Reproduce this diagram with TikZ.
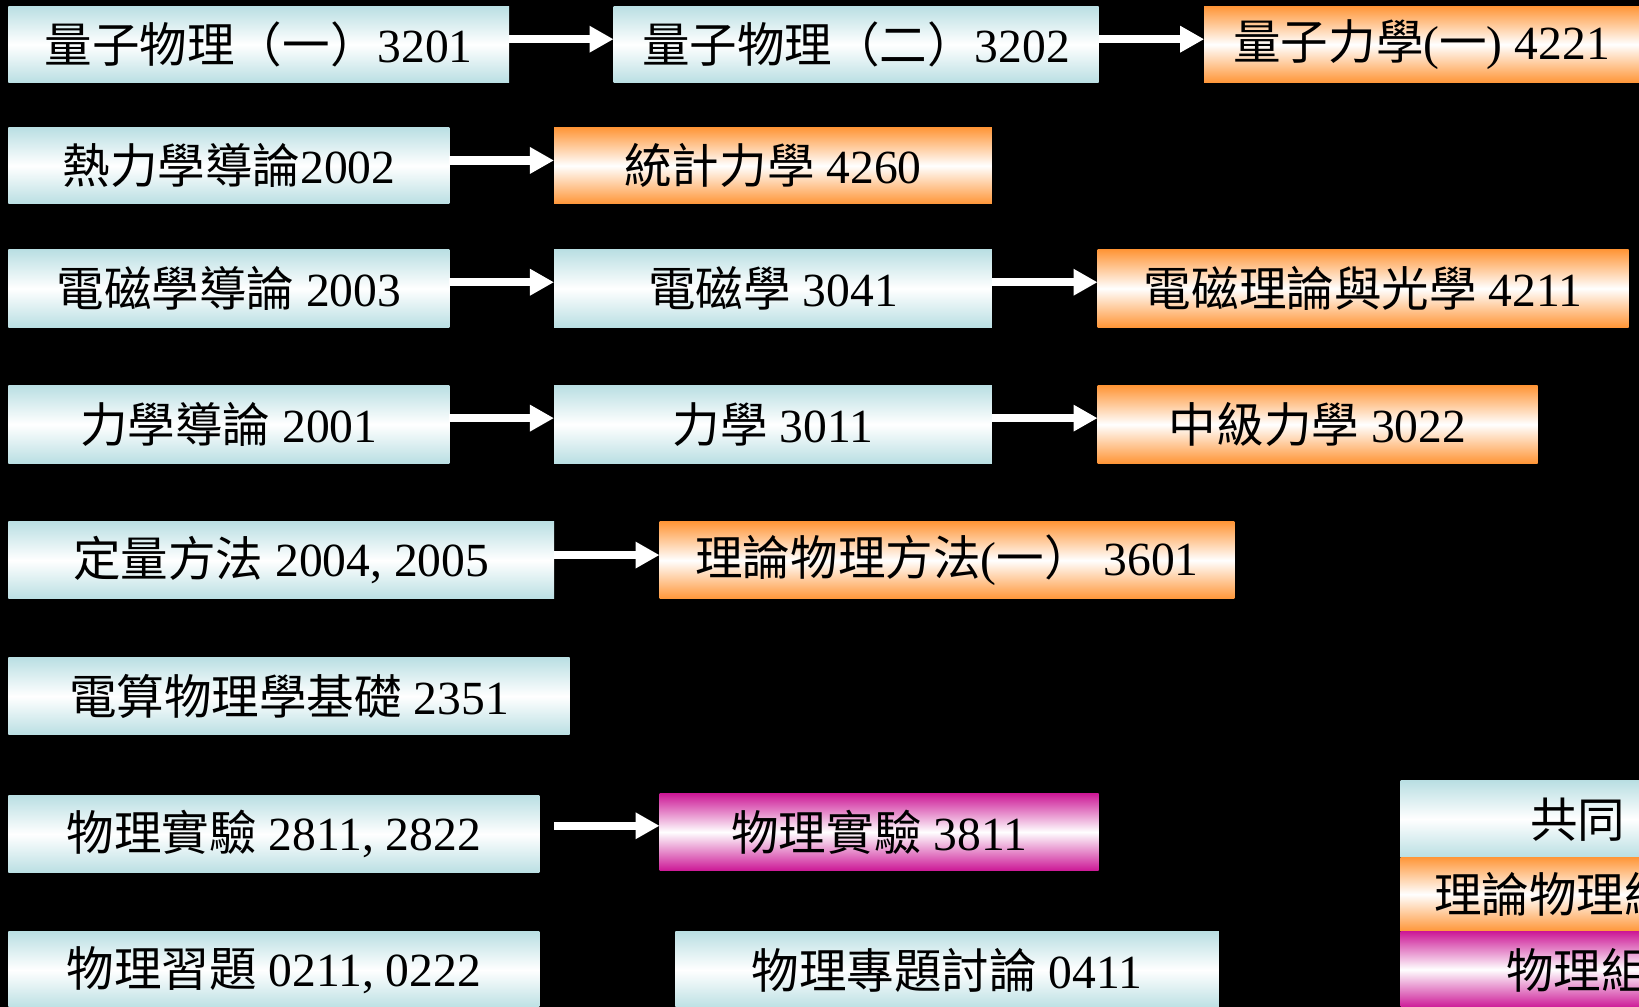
\documentclass[tikz,border=0pt]{standalone}
\usepackage{fontspec}
\setmainfont{Liberation Serif}
\newfontfamily\zh{Noto Sans CJK TC}
\usetikzlibrary{arrows.meta}
\definecolor{tealc}{RGB}{186,223,227}
\definecolor{orangec}{RGB}{255,150,56}
\definecolor{magc}{RGB}{204,24,150}
\tikzset{
  box/.style={inner sep=0pt, outer sep=0pt, text=black,
    font=\fontsize{45.5}{50}\selectfont},
  cbox/.style={box, top color=tealc, bottom color=tealc, middle color=white},
  obox/.style={box, top color=orangec, bottom color=orangec, middle color=white},
  mbox/.style={box, top color=magc, bottom color=magc, middle color=white},
  arr/.style={draw=white, line width=8pt, -{Triangle[length=23pt,width=24pt,fill=white]}},
  sz/.style n args={2}{minimum width=#1pt, minimum height=#2pt}
}
\begin{document}
\begin{tikzpicture}[x=1pt,y=-1pt]
\useasboundingbox (0,0) rectangle (1568,963);
\fill[black] (0,0) rectangle (1568,963);
\clip (0,0) rectangle (1568,963);
% row 1
\node[cbox, sz={479}{73}] (a1) at (247.5,42.5) {{\zh 量子物理（一）}3201};
\node[cbox, sz={464}{73}] (a2) at (819,42.5) {{\zh 量子物理（二）}3202};
\node[obox, sz={416}{73}] (a3) at (1360,42.5) {{\zh 量子力學}({\zh 一}) 4221};
% row 2
\node[cbox, sz={422}{73}] (b1) at (219,158.5) {{\zh 熱力學導論}2002};
\node[obox, sz={419}{73}] (b2) at (739.5,158.5) {{\zh 統計力學} 4260};
% row 3
\node[cbox, sz={422}{74}] (c1) at (219,276) {{\zh 電磁學導論} 2003};
\node[cbox, sz={419}{74}] (c2) at (739.5,276) {{\zh 電磁學} 3041};
\node[obox, sz={508}{74}] (c3) at (1304,276) {{\zh 電磁理論與光學} 4211};
% row 4
\node[cbox, sz={422}{74}] (d1) at (219,406) {{\zh 力學導論} 2001};
\node[cbox, sz={419}{74}] (d2) at (739.5,406) {{\zh 力學} 3011};
\node[obox, sz={421}{74}] (d3) at (1260.5,406) {{\zh 中級力學} 3022};
% row 5
\node[cbox, sz={522}{74}] (e1) at (269,536) {{\zh 定量方法} 2004, 2005};
\node[obox, sz={550}{74}] (e2) at (906,536) {{\zh 理論物理方法}({\zh 一）} 3601};
% row 6
\node[cbox, sz={537}{74}] (f1) at (276.5,666) {{\zh 電算物理學基礎} 2351};
% row 7
\node[cbox, sz={508}{74}] (g1) at (262,798) {{\zh 物理實驗} 2811, 2822};
\node[mbox, sz={420}{74}] (g2) at (841,796) {{\zh 物理實驗} 3811};
% row 8
\node[cbox, sz={508}{74}] (h1) at (262,928) {{\zh 物理習題} 0211, 0222};
\node[cbox, sz={520}{74}] (h2) at (906,928) {{\zh 物理專題討論} 0411};
% legend
\node[cbox, sz={400}{73}, anchor=north west] (l1) at (1340,747) {};
\node[obox, sz={400}{71}, anchor=north west] (l2) at (1340,820) {};
\node[mbox, sz={400}{73}, anchor=north west] (l3) at (1340,891) {};
\node[box, anchor=west] (t1) at (1464,784) {\zh 共同};
\node[box, anchor=west] (t2) at (1372,856) {\zh 理論物理組};
\node[box, anchor=west] (t3) at (1441,928) {\zh 物理組};
% arrows
\draw[arr] ([yshift=5pt]a1.east) -- ([yshift=5pt]a2.west);
\draw[arr] ([yshift=5pt]a2.east) -- ([yshift=5pt]a3.west);
\draw[arr] ([yshift=5pt]b1.east) -- ([yshift=5pt]b2.west);
\draw[arr] ([yshift=6pt]c1.east) -- ([yshift=6pt]c2.west);
\draw[arr] ([yshift=6pt]c2.east) -- ([yshift=6pt]c3.west);
\draw[arr] ([yshift=6pt]d1.east) -- ([yshift=6pt]d2.west);
\draw[arr] ([yshift=6pt]d2.east) -- ([yshift=6pt]d3.west);
\draw[arr] ([yshift=5pt]e1.east) -- ([yshift=5pt]e2.west);
\draw[arr] ([xshift=14pt,yshift=8pt]g1.east) -- ([yshift=6pt]g2.west);
\end{tikzpicture}
\end{document}
